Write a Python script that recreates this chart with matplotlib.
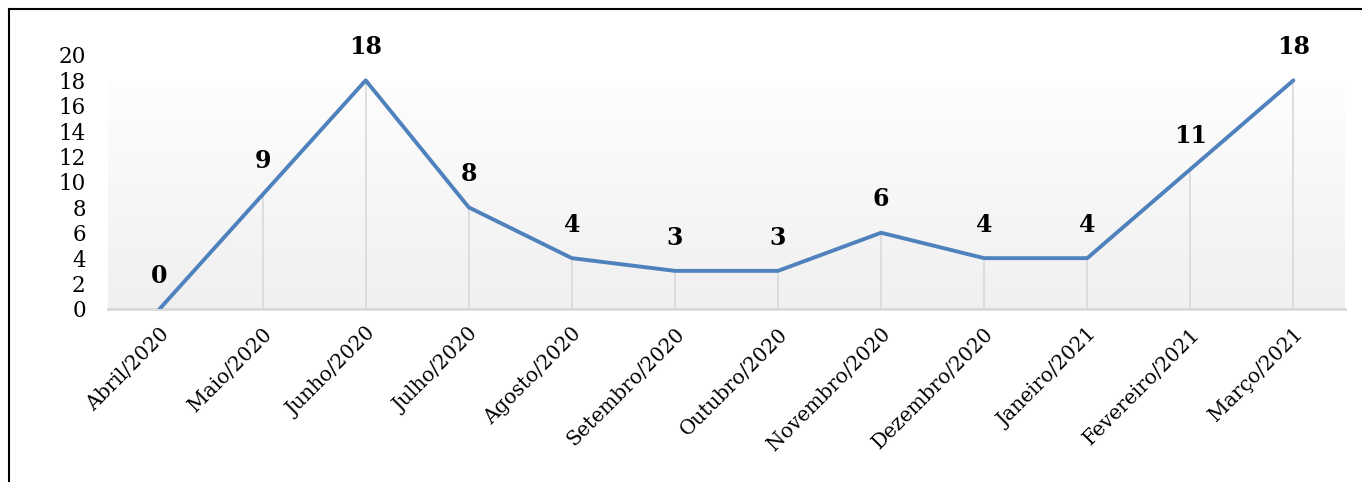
import numpy as np
import matplotlib
matplotlib.use("Agg")
from matplotlib import pyplot as plt
from matplotlib.lines import Line2D

months = ["Abril/2020", "Maio/2020", "Junho/2020", "Julho/2020", "Agosto/2020",
          "Setembro/2020", "Outubro/2020", "Novembro/2020", "Dezembro/2020",
          "Janeiro/2021", "Fevereiro/2021", "Março/2021"]
values = [0, 9, 18, 8, 4, 3, 3, 6, 4, 4, 11, 18]
yticks = list(range(0, 21, 2))

plt.rcParams["font.family"] = ["DejaVu Serif"]

fig = plt.figure(figsize=(13.62, 4.82), dpi=100)
ax = fig.add_axes([0.0793, 0.359, 0.9082, 0.527])

x = np.arange(len(months))

# gradient background, near white at top to light grey at bottom
grad = np.linspace(0.995, 0.94, 256).reshape(-1, 1)
ax.imshow(np.dstack([grad, grad, grad]), extent=[-0.5, 11.5, 0, 17.8],
          aspect="auto", zorder=0, origin="upper")

ax.vlines(x, 0, values, color="#d9d9d9", lw=1.2, zorder=1)
ax.plot(x, values, color="#4f81bd", lw=2.8, zorder=3, solid_capstyle="round")

for xi, v in zip(x, values):
    ax.annotate(str(v), (xi, v), xytext=(0, 24), textcoords="offset points",
                ha="center", va="center", fontsize=17, fontweight="bold")

ax.set_xlim(-0.5, 11.5)
ax.set_ylim(0, 20)
ax.set_yticks(yticks)
ax.set_xticks(x)
ax.set_xticklabels(months, rotation=45, ha="right", rotation_mode="anchor",
                   fontsize=14.5)
ax.tick_params(axis="y", labelsize=15.5, length=0, pad=16)
ax.tick_params(axis="x", length=0, pad=11)
for side in ["left", "right", "top"]:
    ax.spines[side].set_visible(False)
ax.spines["bottom"].set_color("#d9d9d9")
ax.spines["bottom"].set_linewidth(2)
ax.spines["bottom"].set_zorder(2)

# outer border (left and top visible)
fig.add_artist(Line2D([9 / 1362, 9 / 1362], [0, 1 - 9 / 482], color="black", lw=1.5,
                      transform=fig.transFigure))
fig.add_artist(Line2D([9 / 1362, 1], [1 - 9 / 482, 1 - 9 / 482], color="black", lw=1.5,
                      transform=fig.transFigure))

fig.savefig("out.png", dpi=100)
